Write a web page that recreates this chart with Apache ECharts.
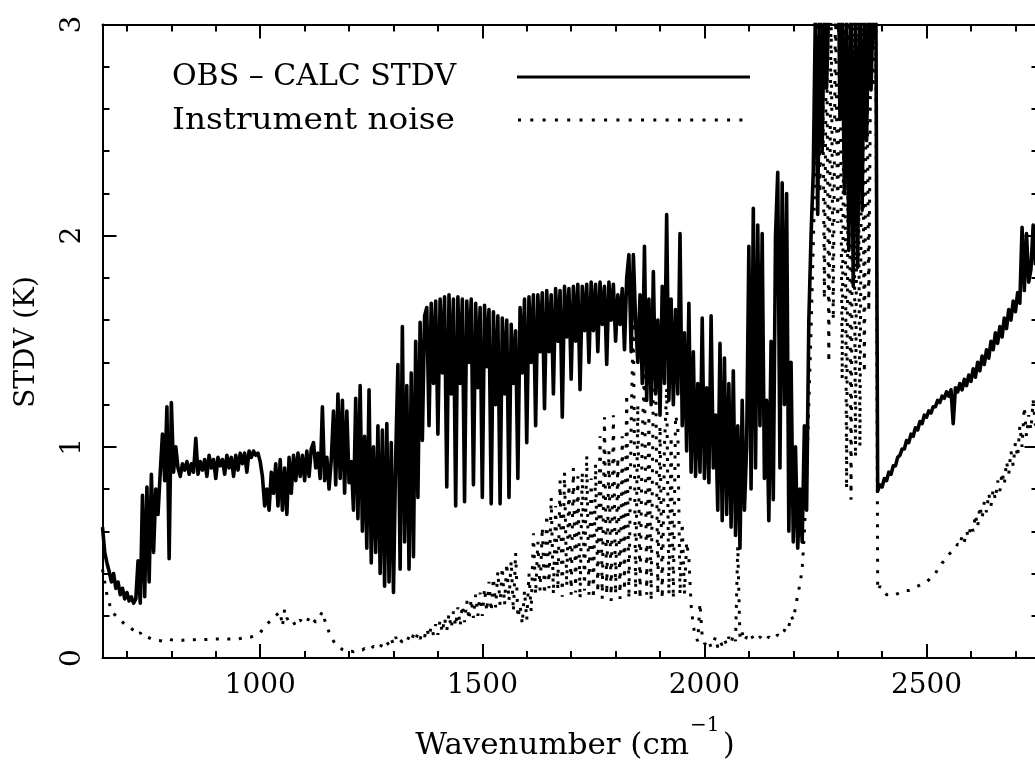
<!DOCTYPE html>
<html>
<head>
<meta charset="utf-8">
<script src="https://cdn.jsdelivr.net/npm/echarts@6/dist/echarts.min.js"></script>
<style>
  html, body { margin: 0; padding: 0; background: #fff; }
  #chart { width: 1035px; height: 765px; }
</style>
</head>
<body>
<div id="chart"></div>
<script>
// ---- Data ----
// Spectral grid: wavenumbers (cm^-1) from 645 in steps of 5 cm^-1
const WN_START = 645;
const WN_STEP = 5;

// OBS - CALC STDV (K), one value per grid point (645 ... 2745)
const obsCalcStdv = [
  0.62,0.50,0.45,0.41,0.36,0.40,0.33,0.36,0.30,0.33,0.28,0.31,0.27,0.29,0.26,0.28,0.46,0.26,0.77,0.29,
  0.81,0.36,0.87,0.50,0.80,0.68,0.88,1.06,0.84,1.19,0.47,1.21,0.88,1.00,0.90,0.86,0.92,0.89,0.93,0.87,
  0.92,0.88,1.04,0.87,0.93,0.89,0.94,0.86,0.96,0.90,0.94,0.85,0.95,0.91,0.94,0.87,0.96,0.90,0.95,0.86,
  0.96,0.89,0.97,0.92,0.97,0.88,0.98,0.95,0.98,0.96,0.97,0.93,0.86,0.72,0.80,0.70,0.88,0.78,0.92,0.72,
  0.94,0.70,0.90,0.68,0.95,0.78,0.96,0.84,0.97,0.86,0.96,0.84,0.98,0.86,0.99,1.02,0.90,0.97,0.85,1.19,
  0.84,0.95,0.80,0.94,1.17,0.82,1.25,0.85,1.22,0.78,1.17,0.83,0.93,0.70,1.23,0.66,1.29,0.60,1.05,0.52,
  1.27,0.45,1.00,0.50,1.10,0.40,1.08,0.34,1.11,0.36,1.02,0.31,0.95,1.39,0.42,1.57,0.55,1.29,0.42,1.35,
  0.48,1.50,0.76,1.59,1.03,1.62,1.66,1.10,1.68,1.30,1.69,1.06,1.70,1.35,1.71,0.81,1.72,1.25,1.70,0.72,
  1.71,1.30,1.70,0.74,1.69,1.40,1.70,0.82,1.68,1.28,1.66,0.76,1.67,1.38,1.65,0.73,1.64,1.20,1.62,0.73,
  1.61,1.25,1.60,0.76,1.58,1.30,1.55,0.85,1.66,1.35,1.70,1.02,1.71,1.40,1.72,1.10,1.72,1.45,1.73,1.18,
  1.74,1.45,1.72,1.25,1.75,1.50,1.74,1.14,1.76,1.52,1.75,1.32,1.76,1.50,1.77,1.27,1.76,1.55,1.77,1.40,
  1.78,1.55,1.77,1.45,1.78,1.58,1.76,1.39,1.78,1.60,1.77,1.50,1.72,1.58,1.75,1.46,1.80,1.91,1.45,1.91,
  1.60,1.40,1.72,1.30,1.95,1.22,1.70,1.20,1.83,1.25,1.60,1.15,1.76,1.30,2.10,1.22,1.70,1.20,1.65,1.25,
  2.01,1.10,1.54,0.98,1.68,0.88,1.45,0.86,1.30,0.88,1.61,0.85,1.28,0.83,1.62,0.90,1.15,0.70,1.49,0.65,
  1.42,0.68,1.30,0.62,1.36,0.58,1.10,0.52,1.22,0.70,1.00,1.95,0.80,2.13,0.90,2.05,1.10,2.01,0.85,1.22,
  0.65,1.50,0.75,2.00,2.30,0.90,2.25,1.20,2.20,0.60,1.40,0.55,1.00,0.52,0.80,0.55,1.10,0.70,1.60,2.00,
  2.30,3.10,2.10,3.10,2.40,3.10,2.70,3.10,3.60,3.60,3.60,3.60,2.55,3.10,2.20,3.10,1.93,3.10,1.76,3.10,
  1.85,3.10,2.12,3.10,2.45,3.10,2.69,3.10,3.60,0.79,0.82,0.81,0.85,0.84,0.88,0.87,0.91,0.91,0.95,0.96,
  0.99,0.99,1.03,1.02,1.06,1.05,1.09,1.08,1.12,1.11,1.15,1.14,1.17,1.16,1.19,1.19,1.22,1.21,1.24,1.23,
  1.26,1.24,1.27,1.11,1.28,1.26,1.30,1.27,1.32,1.29,1.34,1.31,1.37,1.33,1.40,1.36,1.43,1.39,1.46,1.42,
  1.50,1.46,1.54,1.49,1.57,1.52,1.61,1.56,1.65,1.60,1.69,1.64,1.73,1.68,2.04,1.74,2.01,1.78,1.84,2.05,
  1.86
];

// Instrument noise (K), same grid
const instrumentNoise = [
  0.42,0.36,0.30,0.26,0.23,0.21,0.20,0.19,0.18,0.17,0.16,0.155,0.15,0.14,0.13,0.12,0.11,0.12,0.10,0.10,
  0.10,0.095,0.09,0.088,0.085,0.083,0.082,0.08,0.082,0.085,0.09,0.086,0.084,0.083,0.084,0.085,0.084,0.085,0.086,0.085,
  0.086,0.086,0.087,0.087,0.087,0.088,0.088,0.088,0.089,0.089,0.089,0.09,0.09,0.09,0.09,0.09,0.09,0.09,0.09,0.09,
  0.09,0.09,0.092,0.094,0.095,0.097,0.10,0.10,0.105,0.11,0.115,0.12,0.135,0.15,0.16,0.17,0.18,0.19,0.20,0.21,
  0.22,0.15,0.23,0.19,0.17,0.16,0.17,0.15,0.17,0.18,0.17,0.18,0.17,0.19,0.17,0.18,0.17,0.18,0.20,0.22,
  0.18,0.16,0.12,0.10,0.08,0.065,0.055,0.05,0.04,0.035,0.03,0.03,0.032,0.03,0.035,0.036,0.04,0.038,0.045,0.04,
  0.05,0.045,0.055,0.05,0.06,0.05,0.07,0.06,0.075,0.06,0.09,0.065,0.10,0.07,0.085,0.075,0.09,0.08,0.10,0.08,
  0.11,0.085,0.12,0.09,0.12,0.10,0.14,0.10,0.15,0.11,0.16,0.11,0.18,0.12,0.19,0.13,0.21,0.14,0.22,0.15,
  0.24,0.15,0.25,0.17,0.27,0.18,0.28,0.19,0.30,0.20,0.31,0.20,0.33,0.22,0.36,0.22,0.38,0.24,0.41,0.25,
  0.43,0.25,0.45,0.27,0.46,0.22,0.50,0.19,0.25,0.16,0.32,0.18,0.40,0.22,0.59,0.30,0.55,0.32,0.62,0.30,
  0.68,0.33,0.76,0.30,0.72,0.32,0.84,0.29,0.88,0.34,0.82,0.30,0.90,0.31,0.86,0.28,0.88,0.32,0.96,0.30,
  0.85,0.28,0.92,0.31,1.05,0.28,1.14,0.30,0.98,0.27,1.15,0.30,0.95,0.28,1.05,0.32,1.25,0.28,1.10,1.62,
  0.30,1.20,0.28,1.05,1.36,0.30,1.15,0.27,1.30,1.40,0.30,1.10,0.28,1.00,1.28,0.30,1.05,0.28,1.15,1.10,
  0.30,0.64,0.30,0.55,0.47,0.25,0.15,0.10,0.08,0.26,0.10,0.07,0.06,0.08,0.05,0.07,0.10,0.05,0.08,0.06,
  0.09,0.06,0.10,0.07,0.11,0.08,0.53,0.09,0.12,0.08,0.10,0.09,0.11,0.09,0.10,0.09,0.10,0.09,0.10,0.09,
  0.10,0.09,0.10,0.10,0.11,0.10,0.12,0.13,0.16,0.15,0.20,0.18,0.24,0.30,0.35,0.42,0.60,0.85,1.20,1.55,
  1.95,2.40,3.10,2.20,3.10,1.70,3.10,1.40,3.10,1.60,3.10,2.06,3.10,1.32,3.10,0.80,3.10,0.75,3.10,0.95,
  3.10,1.00,3.10,1.35,3.10,1.64,3.10,2.70,3.50,0.32,0.34,0.32,0.31,0.30,0.30,0.295,0.30,0.30,0.305,0.31,
  0.31,0.315,0.32,0.32,0.325,0.33,0.335,0.34,0.345,0.35,0.355,0.36,0.37,0.38,0.39,0.40,0.42,0.43,0.45,0.46,
  0.47,0.49,0.50,0.51,0.52,0.54,0.53,0.58,0.55,0.60,0.57,0.63,0.60,0.68,0.62,0.72,0.66,0.74,0.69,0.78,
  0.72,0.80,0.75,0.84,0.79,0.88,0.82,0.93,0.87,0.98,0.91,1.02,0.95,1.10,1.00,1.19,1.05,1.15,1.08,1.22,
  1.10
];

// Axis ticks and labels
const xMajorTicks = [1000, 1500, 2000, 2500];
const xMinorTicks = [700, 800, 900, 1000, 1100, 1200, 1300, 1400, 1500, 1600, 1700, 1800, 1900,
                     2000, 2100, 2200, 2300, 2400, 2500, 2600, 2700];
const yMajorTicks = [0, 1, 2, 3];
const yMinorTicks = [0.2, 0.4, 0.6, 0.8, 1.2, 1.4, 1.6, 1.8, 2.2, 2.4, 2.6, 2.8];
const seriesNames = ['OBS \u2013 CALC STDV', 'Instrument noise'];
const xTitle = ['Wavenumber (cm', '\u22121', ')'];
const yTitle = 'STDV (K)';

// ---- Chart ----
const X_MIN = 645, X_MAX = 2752, Y_MIN = 0, Y_MAX = 3;
const FONT = '"DejaVu Serif", "Liberation Serif", serif';
const toPairs = (vals) => vals.map((v, i) => [WN_START + i * WN_STEP, v]);
const plain = (v) => String(v);

function xAxisDef(position, ticks, len, showLine, labels) {
  return {
    type: 'value', min: X_MIN, max: X_MAX, position: position, gridIndex: 0,
    axisLine: { show: showLine, onZero: false, lineStyle: { color: '#000', width: 2 } },
    axisTick: { show: true, inside: true, length: len, customValues: ticks,
                lineStyle: { color: '#000', width: 2 } },
    axisLabel: labels ? { show: true, customValues: labels, formatter: plain, color: '#000', fontSize: 28,
                          fontFamily: FONT, margin: 14 } : { show: false },
    splitLine: { show: false }, minorTick: { show: false }
  };
}
function yAxisDef(position, ticks, len, showLine, labels) {
  return {
    type: 'value', min: Y_MIN, max: Y_MAX, position: position, gridIndex: 0,
    axisLine: { show: showLine, onZero: false, lineStyle: { color: '#000', width: 2 } },
    axisTick: { show: true, inside: true, length: len, customValues: ticks,
                lineStyle: { color: '#000', width: 2 } },
    axisLabel: labels ? { show: true, customValues: labels, formatter: plain, color: '#000', fontSize: 28,
                          fontFamily: FONT, rotate: 90, margin: 16 } : { show: false },
    splitLine: { show: false }, minorTick: { show: false }
  };
}

const chart = echarts.init(document.getElementById('chart'), null, { renderer: 'canvas' });
chart.setOption({
  animation: false,
  backgroundColor: '#fff',
  grid: { left: 102.5, right: -3.5, top: 24.5, bottom: 107, containLabel: false, outerBoundsMode: 'none' },
  xAxis: [
    xAxisDef('bottom', xMajorTicks, 14, true, xMajorTicks),
    xAxisDef('bottom', xMinorTicks, 7, false, null),
    xAxisDef('top', xMajorTicks, 14, true, null),
    xAxisDef('top', xMinorTicks, 7, false, null)
  ],
  yAxis: [
    yAxisDef('left', yMajorTicks, 14, true, yMajorTicks),
    yAxisDef('left', yMinorTicks, 7, false, null),
    yAxisDef('right', yMajorTicks, 14, true, null),
    yAxisDef('right', yMinorTicks, 7, false, null)
  ],
  series: [
    {
      name: seriesNames[0], type: 'line', xAxisIndex: 0, yAxisIndex: 0,
      data: toPairs(obsCalcStdv), showSymbol: false, symbol: 'none', clip: true,
      lineStyle: { color: '#000', width: 3.6, join: 'round' }, z: 3
    },
    {
      name: seriesNames[1], type: 'line', xAxisIndex: 0, yAxisIndex: 0,
      data: toPairs(instrumentNoise), showSymbol: false, symbol: 'none', clip: true,
      lineStyle: { color: '#000', width: 3, type: [3, 8.5], cap: 'butt' }, z: 2
    }
  ],
  graphic: [
    { type: 'text', x: 172, y: 77, style: { text: seriesNames[0], font: '30px ' + FONT, fill: '#000',
      align: 'left', verticalAlign: 'middle' } },
    { type: 'line', shape: { x1: 517, y1: 77, x2: 750, y2: 77 }, style: { stroke: '#000', lineWidth: 3 } },
    { type: 'text', x: 172, y: 121, scaleX: 1.09, style: { text: seriesNames[1], font: '30px ' + FONT,
      fill: '#000', align: 'left', verticalAlign: 'middle' } },
    { type: 'line', shape: { x1: 518, y1: 120, x2: 750, y2: 120 },
      style: { stroke: '#000', lineWidth: 3, lineDash: [3, 9.3], lineCap: 'butt' } },
    { type: 'text', x: 689, y: 746, scaleX: 1.03, style: { text: xTitle[0], font: '30px ' + FONT,
      fill: '#000', align: 'right', verticalAlign: 'middle' } },
    { type: 'text', x: 690, y: 726, style: { text: xTitle[1], font: '20px ' + FONT, fill: '#000',
      align: 'left', verticalAlign: 'middle' } },
    { type: 'text', x: 723, y: 746, style: { text: xTitle[2], font: '30px ' + FONT, fill: '#000',
      align: 'left', verticalAlign: 'middle' } },
    { type: 'text', x: 27, y: 342, rotation: Math.PI / 2, style: { text: yTitle, font: '28px ' + FONT,
      fill: '#000', align: 'center', verticalAlign: 'middle' } }
  ]
});
</script>
</body>
</html>
